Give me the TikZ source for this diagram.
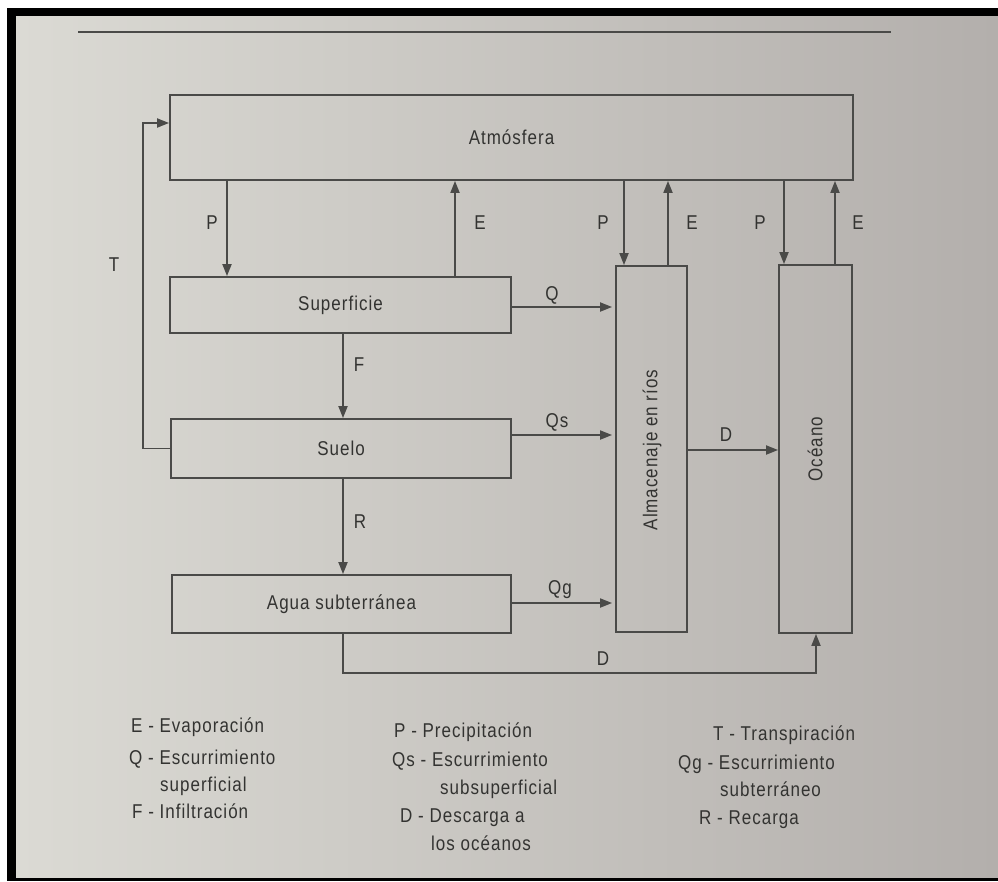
\documentclass[tikz,border=0pt]{standalone}
\usepackage{fontspec}
\setmainfont{Liberation Sans}[FakeStretch=0.85, LetterSpace=5]
\usetikzlibrary{arrows.meta}
\definecolor{ink}{HTML}{4A4A48}
\definecolor{txt}{HTML}{333331}
\definecolor{pageL}{HTML}{DBDAD4}
\definecolor{pageM}{HTML}{D5D4CE}
\definecolor{pageR}{HTML}{B3AFAC}
\begin{document}
\begin{tikzpicture}[x=1pt,y=-1pt,
  box/.style={draw=ink, line width=1.8pt, inner sep=0pt, text=txt, font=\fontsize{20}{24}\selectfont},
  lbl/.style={text=txt, font=\fontsize{20}{24}\selectfont, inner sep=0pt},
  leg/.style={text=txt, font=\fontsize{20}{24}\selectfont, inner sep=0pt, anchor=base west},
  arr/.style={draw=ink, line width=1.8pt, -{Triangle[length=12pt,width=9pt]}},
]
\useasboundingbox (0,0) rectangle (998,881);
\fill[white] (0,0) rectangle (998,881);
\fill[black] (7,8) rectangle (998,881);
\shade[left color=pageL, middle color=pageM, right color=pageR] (16,16) rectangle (998,877);
\draw[ink, line width=2pt] (78,32) -- (891,32);

% boxes
\node[box, minimum width=683pt, minimum height=85pt] (atm) at (511.5,137.5) {Atmósfera};
\node[box, minimum width=341pt, minimum height=56pt] (sup) at (340.5,305) {Superficie};
\node[box, minimum width=340pt, minimum height=59pt] (suelo) at (341,448.5) {Suelo};
\node[box, minimum width=339pt, minimum height=58pt] (agua) at (341.5,604) {Agua subterránea};
\node[box, minimum width=71pt, minimum height=366pt] (alm) at (651.5,449) {};
\node[lbl, rotate=90] (almt) at (652,450) {Almacenaje en ríos};
\node[box, minimum width=73pt, minimum height=368pt] (oce) at (815.5,449) {};
\node[lbl, rotate=90] (ocet) at (815,449) {Océano};

% helper coordinates
\coordinate (xP1) at (227,0);
\coordinate (xE1) at (455,0);
\coordinate (xP2) at (624,0);
\coordinate (xE2) at (668,0);
\coordinate (xP3) at (784,0);
\coordinate (xE3) at (835,0);
\coordinate (xF) at (343,0);
\coordinate (xT) at (143,0);
\coordinate (xD2) at (816,0);
\coordinate (yT) at (0,123);
\coordinate (yQ) at (0,307);
\coordinate (yQs) at (0,435);
\coordinate (yQg) at (0,603);
\coordinate (yD) at (0,450);
\coordinate (yD2) at (0,673);

% vertical exchanges with atmosphere
\draw[arr] (xP1 |- atm.south) -- (xP1 |- sup.north);
\draw[arr] (xE1 |- sup.north) -- (xE1 |- atm.south);
\draw[arr] (xP2 |- atm.south) -- (xP2 |- alm.north);
\draw[arr] (xE2 |- alm.north) -- (xE2 |- atm.south);
\draw[arr] (xP3 |- atm.south) -- (xP3 |- oce.north);
\draw[arr] (xE3 |- oce.north) -- (xE3 |- atm.south);

% transpiration
\draw[arr] (suelo.west) -- (xT |- suelo.west) -- (xT |- yT) -- (yT -| atm.west);

% vertical flows
\draw[arr] (xF |- sup.south) -- (xF |- suelo.north);
\draw[arr] (xF |- suelo.south) -- (xF |- agua.north);

% horizontal flows
\draw[arr, shorten >=3pt] (yQ -| sup.east) -- (yQ -| alm.west);
\draw[arr, shorten >=3pt] (yQs -| suelo.east) -- (yQs -| alm.west);
\draw[arr, shorten >=3pt] (yQg -| agua.east) -- (yQg -| alm.west);
\draw[arr] (yD -| alm.east) -- (yD -| oce.west);
\draw[arr] (xF |- agua.south) -- (xF |- yD2) -- (xD2 |- yD2) -- (xD2 |- oce.south);

% flow labels
\node[lbl] (lP1) at (212,223) {P};
\node[lbl] (lE1) at (480,223) {E};
\node[lbl] (lP2) at (603,223) {P};
\node[lbl] (lE2) at (692,223) {E};
\node[lbl] (lP3) at (760,223) {P};
\node[lbl] (lE3) at (858,223) {E};
\node[lbl] (lT) at (114,265) {T};
\node[lbl] (lF) at (359,365) {F};
\node[lbl] (lR) at (360,522) {R};
\node[lbl] (lQ) at (552,295) {Q};
\node[lbl] (lQs) at (557,422) {Qs};
\node[lbl] (lQg) at (560,590) {Qg};
\node[lbl] (lD1) at (726,435) {D};
\node[lbl] (lD2) at (603,659) {D};

% legend
\node[leg] (g1) at (131,732) {E - Evaporación};
\node[leg] (g2) at (129,764) {Q - Escurrimiento};
\node[leg] (g3) at (160,791) {superficial};
\node[leg] (g4) at (132,818) {F - Infiltración};
\node[leg] (g5) at (394,737) {P - Precipitación};
\node[leg] (g6) at (392,766) {Qs - Escurrimiento};
\node[leg] (g7) at (440,794) {subsuperficial};
\node[leg] (g8) at (400,822) {D - Descarga a};
\node[leg] (g9) at (431,850) {los océanos};
\node[leg] (g10) at (713,740) {T - Transpiración};
\node[leg] (g11) at (678,769) {Qg - Escurrimiento};
\node[leg] (g12) at (720,796) {subterráneo};
\node[leg] (g13) at (699,824) {R - Recarga};
\end{tikzpicture}
\end{document}
